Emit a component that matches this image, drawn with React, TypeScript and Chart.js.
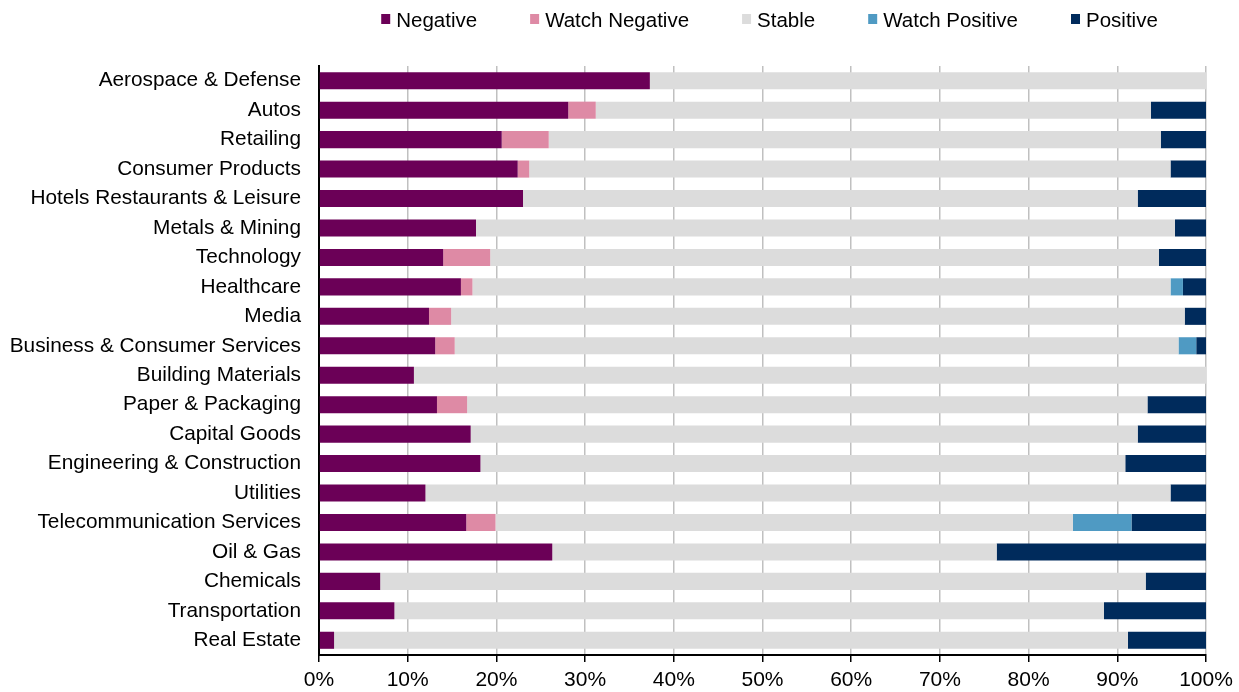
import React, { useEffect, useRef } from "react";
import { Chart, registerables } from "chart.js";

Chart.register(...registerables);

const categories = [
  "Aerospace & Defense",
  "Autos",
  "Retailing",
  "Consumer Products",
  "Hotels Restaurants & Leisure",
  "Metals & Mining",
  "Technology",
  "Healthcare",
  "Media",
  "Business & Consumer Services",
  "Building Materials",
  "Paper & Packaging",
  "Capital Goods",
  "Engineering & Construction",
  "Utilities",
  "Telecommunication Services",
  "Oil & Gas",
  "Chemicals",
  "Transportation",
  "Real Estate",
];

const negative = [37.3, 28.1, 20.6, 22.4, 23.0, 17.7, 14.0, 16.0, 12.4, 13.1, 10.7, 13.3, 17.1, 18.2, 12.0, 16.6, 26.3, 6.9, 8.5, 1.7];
const watchNegative = [0, 3.1, 5.3, 1.3, 0, 0, 5.3, 1.3, 2.5, 2.2, 0, 3.4, 0, 0, 0, 3.3, 0, 0, 0, 0];
const stable = [62.7, 62.6, 69.0, 72.3, 69.3, 78.8, 75.4, 78.7, 82.7, 81.6, 89.3, 76.7, 75.2, 72.7, 84.0, 65.1, 50.1, 86.3, 80.0, 89.5];
const watchPositive = [0, 0, 0, 0, 0, 0, 0, 1.4, 0, 2.0, 0, 0, 0, 0, 0, 6.6, 0, 0, 0, 0];
const positive = [0, 6.2, 5.1, 4.0, 7.7, 3.5, 5.3, 2.6, 2.4, 1.1, 0, 6.6, 7.7, 9.1, 4.0, 8.4, 23.6, 6.8, 11.5, 8.8];

const seriesNames = ["Negative", "Watch Negative", "Stable", "Watch Positive", "Positive"];
const seriesColors = ["#6b0057", "#de8aa5", "#dcdcdc", "#4f9ac3", "#002b5c"];

const xTicks = [0, 10, 20, 30, 40, 50, 60, 70, 80, 90, 100];

const FONT = '"Liberation Sans", Arial, sans-serif';

const legendPlugin = {
  id: "customLegend",
  afterDraw(chart: any) {
    const ctx = chart.ctx;
    const fontSize = 20.5;
    const boxW = 9;
    const boxH = 10;
    const gap = 6;
    const spacing = 53;
    ctx.save();
    ctx.font = `${fontSize}px ${FONT}`;
    const items = chart.data.datasets.map((d: any) => ({
      label: d.label,
      color: d.backgroundColor,
      w: ctx.measureText(d.label).width,
    }));
    const total =
      items.reduce((s: number, it: any) => s + boxW + gap + it.w, 0) +
      spacing * (items.length - 1);
    const center = (chart.chartArea.left + chart.chartArea.right) / 2 + 7;
    let x = center - total / 2;
    const yMid = 20;
    ctx.textBaseline = "middle";
    ctx.textAlign = "left";
    for (const it of items) {
      ctx.fillStyle = it.color;
      ctx.fillRect(x, yMid - boxH / 2 - 1, boxW, boxH);
      x += boxW + gap;
      ctx.fillStyle = "#000";
      ctx.fillText(it.label, x, yMid + 1);
      x += it.w + spacing;
    }
    ctx.restore();
  },
};

export default function App() {
  const ref = useRef<HTMLCanvasElement | null>(null);

  useEffect(() => {
    document.body.style.margin = "0";
    if (!ref.current) return;
    const values = [negative, watchNegative, stable, watchPositive, positive];
    const chart = new Chart(ref.current, {
      type: "bar",
      data: {
        labels: categories,
        datasets: seriesNames.map((name, i) => ({
          label: name,
          data: values[i],
          backgroundColor: seriesColors[i],
          borderWidth: 0,
          barPercentage: 0.58,
          categoryPercentage: 1,
        })),
      },
      options: {
        indexAxis: "y",
        responsive: false,
        animation: false,
        devicePixelRatio: 1,
        layout: { padding: { top: 66, right: 33, bottom: 0, left: 0 } },
        plugins: {
          legend: { display: false },
          tooltip: { enabled: false },
        },
        scales: {
          x: {
            stacked: true,
            min: 0,
            max: 100,
            afterBuildTicks(scale: any) {
              scale.ticks = xTicks.map((v) => ({ value: v }));
            },
            afterFit(scale: any) {
              scale.height = 37;
            },
            ticks: {
              callback: (v: any) => `${v}%`,
              color: "#000",
              font: { family: FONT, size: 21 },
              padding: 6,
              maxRotation: 0,
            },
            grid: {
              color: (c: any) => (c.tick && c.tick.value === 0 ? "rgba(0,0,0,0)" : "#c0c0c0"),
              lineWidth: 1.5,
              tickColor: "#000",
              tickWidth: 1.5,
              tickLength: 7,
              drawTicks: true,
            },
            border: { display: true, color: "#000", width: 2 },
          },
          y: {
            stacked: true,
            afterFit(scale: any) {
              scale.width = 319;
            },
            ticks: {
              color: "#000",
              font: { family: FONT, size: 20.8 },
              padding: 18,
              autoSkip: false,
            },
            grid: { display: false, drawTicks: false },
            border: { display: true, color: "#000", width: 2 },
          },
        },
      },
      plugins: [legendPlugin],
    } as any);
    return () => chart.destroy();
  }, []);

  return (
    <div style={{ width: 1239, height: 692 }}>
      <canvas ref={ref} width={1239} height={692} style={{ display: "block" }} />
    </div>
  );
}
